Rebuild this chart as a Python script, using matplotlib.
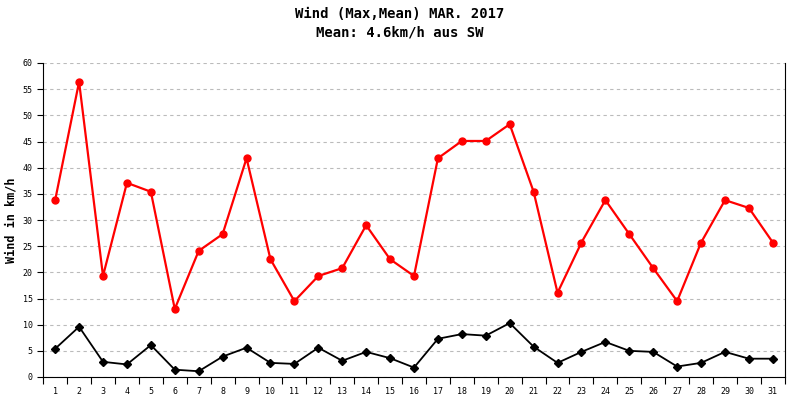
import matplotlib
matplotlib.use("Agg")
import matplotlib.pyplot as plt
import numpy as np

days = list(range(1, 32))
wind_max = [33.8, 56.4, 19.3, 37.1, 35.4, 13.0, 24.1, 27.3, 41.8, 22.5, 14.5,
            19.3, 20.8, 29.0, 22.5, 19.3, 41.8, 45.1, 45.1, 48.3, 35.4, 16.1,
            25.7, 33.8, 27.3, 20.8, 14.5, 25.7, 33.8, 32.3, 25.7]
wind_mean = [5.4, 9.6, 2.9, 2.4, 6.1, 1.4, 1.1, 3.9, 5.6, 2.7, 2.5, 5.6, 3.1,
             4.8, 3.6, 1.8, 7.3, 8.2, 7.9, 10.3, 5.8, 2.7, 4.8, 6.7, 5.0, 4.8,
             2.0, 2.7, 4.8, 3.5, 3.5]

plt.rcParams["font.family"] = "DejaVu Sans Mono"

fig = plt.figure(figsize=(8, 4), dpi=100)
ax = fig.add_axes([0.054, 0.0575, 0.927, 0.785])

ax.plot(days, wind_max, color="#ff0000", lw=1.6, marker="o", ms=5)
ax.plot(days, wind_mean, color="black", lw=1.3, marker="D", ms=4)

ax.set_xlim(0.5, 31.5)
ax.set_ylim(0, 60)
ax.set_yticks(range(0, 61, 5))
ax.tick_params(axis="y", labelsize=6, length=4, direction="out")
# tick marks between days, labels centred on days
ax.set_xticks(np.arange(0.5, 32, 1))
ax.set_xticklabels([])
ax.set_xticks(days, minor=True)
ax.set_xticklabels([str(d) for d in days], minor=True, fontsize=6)
ax.tick_params(axis="x", which="major", length=5, direction="out")
ax.tick_params(axis="x", which="minor", length=0, pad=7)

ax.grid(axis="y", color="#bbbbbb", ls=(0, (3, 3)), lw=0.8)
ax.set_axisbelow(True)
ax.spines["top"].set_visible(False)
ax.set_ylabel("Wind in km/h", fontsize=8.5, fontweight="bold")

fig.text(0.5, 0.965, "Wind (Max,Mean) MAR. 2017", ha="center", va="center",
         fontsize=10, fontweight="bold")
fig.text(0.5, 0.918, "Mean: 4.6km/h aus SW", ha="center", va="center",
         fontsize=10, fontweight="bold")

fig.savefig("out.png", dpi=100)
